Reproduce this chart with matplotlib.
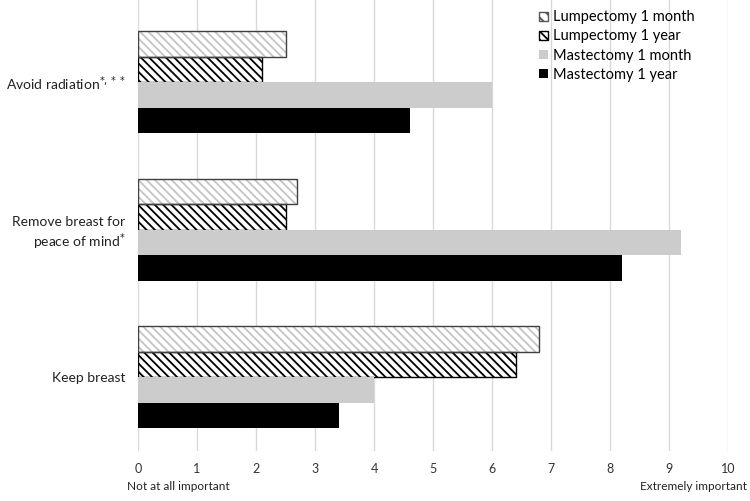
import numpy as np
import matplotlib.pyplot as plt
from matplotlib.patches import Patch

# data
categories = ["Avoid radiation$^{*,**}$", "Remove breast for\npeace of mind$^{*}$", "Keep breast"]
series = ["Lumpectomy 1 month", "Lumpectomy 1 year", "Mastectomy 1 month", "Mastectomy 1 year"]
lump_1m = [2.5, 2.7, 6.8]
lump_1y = [2.1, 2.5, 6.4]
mast_1m = [6.0, 9.2, 4.0]
mast_1y = [4.6, 8.2, 3.4]
xticks = list(range(0, 11))

plt.rcParams['font.family'] = ['Lato', 'DejaVu Sans']
plt.rcParams['hatch.linewidth'] = 1.3

fig = plt.figure(figsize=(7.5, 5.01), dpi=100)
ax = fig.add_axes([0.184, 0.10, 0.787, 0.90])

y = np.arange(len(categories))
h = 0.173
offs = [-1.5, -0.5, 0.5, 1.5]

# lumpectomy 1 month: light grey hatch, dark outline (two layers)
ax.barh(y + offs[0] * h, lump_1m, height=h, color='white', edgecolor='#c4c4c4',
        hatch='\\\\\\\\', linewidth=0, zorder=3)
ax.barh(y + offs[0] * h, lump_1m, height=h, fill=False, edgecolor='#404040',
        linewidth=1.0, zorder=4)
ax.barh(y + offs[1] * h, lump_1y, height=h, color='white', edgecolor='black',
        hatch='\\\\\\\\', linewidth=1.0, zorder=3)
ax.barh(y + offs[2] * h, mast_1m, height=h, color='#cccccc', linewidth=0, zorder=3)
ax.barh(y + offs[3] * h, mast_1y, height=h, color='black', linewidth=0, zorder=3)

ax.set_xlim(0, 10)
ax.set_ylim(y[-1] + 0.5, y[0] - 0.556)
ax.set_xticks(xticks)
ax.set_xticklabels([str(t) for t in xticks], fontsize=9, color='#333333')
ax.set_yticks(y)
ax.set_yticklabels(categories, fontsize=10, color='#222222')
ax.tick_params(axis='x', length=0, pad=9)
ax.tick_params(axis='y', length=0, pad=9)
ax.grid(axis='x', color='#d9d9d9', linewidth=1, zorder=0)
for s in ax.spines.values():
    s.set_visible(False)

fig.text(0.169, 0.028, "Not at all important", fontsize=8.5, ha='left', va='center',
         color='#222222')
fig.text(0.996, 0.028, "Extremely important", fontsize=8.5, ha='right', va='center',
         color='#222222')

# legend
handles = [
    Patch(facecolor='white', edgecolor='#555555', hatch='\\\\\\'),
    Patch(facecolor='white', edgecolor='black', hatch='\\\\\\\\'),
    Patch(facecolor='#cccccc', edgecolor='none'),
    Patch(facecolor='black', edgecolor='none'),
]
ax.legend(handles, series, loc='upper left', bbox_to_anchor=(0.67, 0.99),
          frameon=False, fontsize=10.5, handlelength=0.6, handleheight=0.6,
          handletextpad=0.35, labelspacing=0.35, borderaxespad=0)

fig.savefig("out.png", dpi=100)
